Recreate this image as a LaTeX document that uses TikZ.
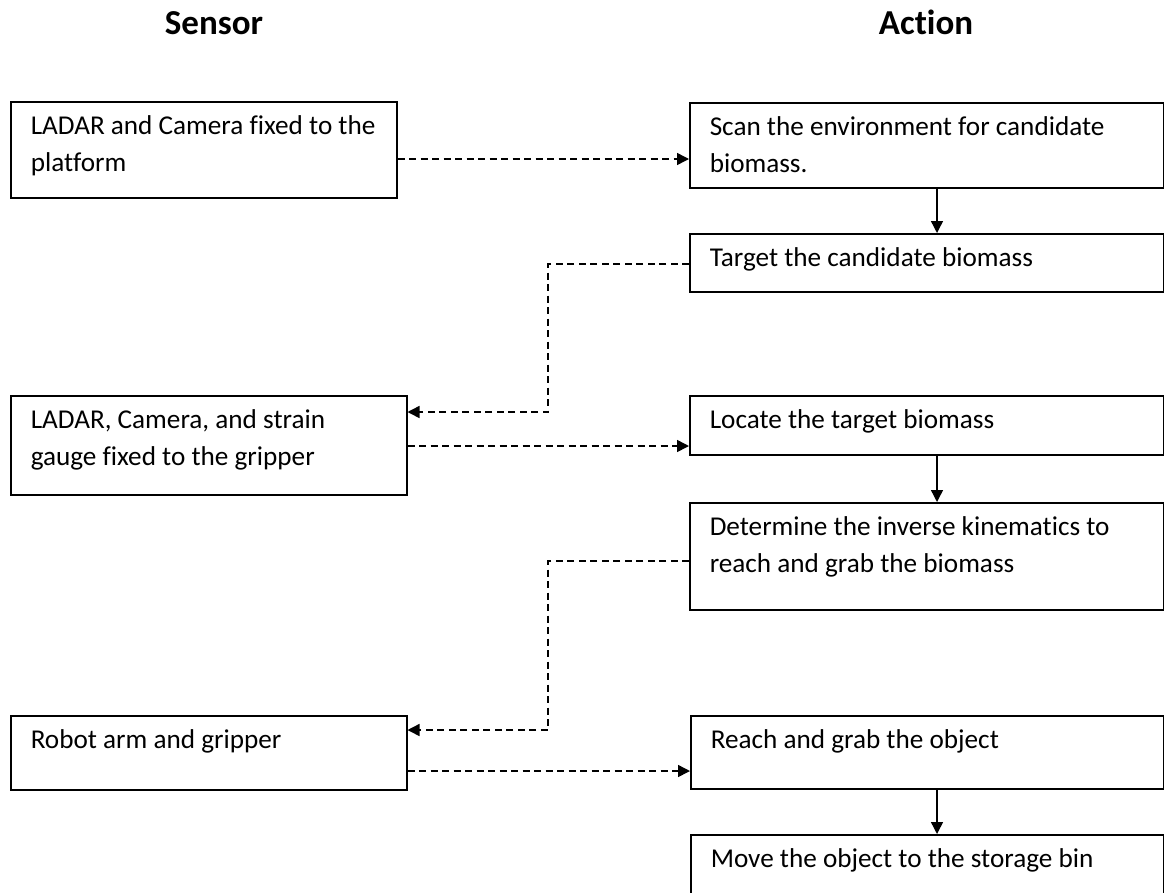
\documentclass[tikz,border=0pt]{standalone}
\usepackage{fontspec}
\setmainfont{Carlito}[Ligatures=CommonOff]
\usetikzlibrary{arrows.meta,calc}
\newcommand{\bxt}[3]{\parbox[c][#2][t]{#1}{\raggedright\strut #3}}
\tikzset{
  box/.style={draw=black, line width=1.5pt, anchor=north west, inner xsep=20pt, inner ysep=7pt,
    font=\fontsize{27.2}{37}\selectfont},
  head/.style={anchor=base, font=\fontsize{35}{40}\selectfont\bfseries},
  solidarrow/.style={line width=1.4pt, -{Triangle[length=12pt,width=12pt]}},
  dasharrow/.style={line width=1.5pt, dash pattern=on 7pt off 4.5pt, -{Triangle[length=12pt,width=12pt]}}
}
\begin{document}
\begin{tikzpicture}[x=1pt,y=-1pt]
\useasboundingbox (0,0) rectangle (1164,892);
\clip (0,0) rectangle (1164,892);
\node[head] (hs) at (214,34) {Sensor};
\node[head] (ha) at (926,34) {Action};

\node[box] (L1) at (10,101) {\bxt{346pt}{82pt}{LADAR and Camera fixed to the\\platform}};
\node[box] (L2) at (10,395) {\bxt{356pt}{85pt}{LADAR, Camera, and strain\\gauge fixed to the gripper}};
\node[box] (L3) at (10,715) {\bxt{356pt}{60pt}{Robot arm and gripper}};

\node[box] (R1) at (689,102) {\bxt{434pt}{71pt}{Scan the environment for candidate\\biomass.}};
\node[box] (R2) at (689,233) {\bxt{434pt}{44pt}{Target the candidate biomass}};
\node[box] (R3) at (689,395) {\bxt{434pt}{45pt}{Locate the target biomass}};
\node[box] (R4) at (689,502) {\bxt{434pt}{93pt}{Determine the inverse kinematics to\\reach and grab the biomass}};
\node[box] (R5) at (690,715) {\bxt{433pt}{59pt}{Reach and grab the object}};
\node[box] (R6) at (690,834) {\bxt{433pt}{60pt}{Move the object to the storage bin}};

\draw[dasharrow] ($(L1.north east)+(0,58)$) coordinate (h1) -- (R1.west |- h1);
\draw[solidarrow] ($(R1.south west)+(248,0)$) coordinate (v1) -- (v1 |- R2.north);
\draw[dasharrow] ($(R2.north west)+(0,31)$) -- ++(-141,0) |- ($(L2.north east)+(0,17)$);
\draw[dasharrow] ($(L2.north east)+(0,51)$) coordinate (h2) -- (R3.west |- h2);
\draw[solidarrow] ($(R3.south west)+(248,0)$) coordinate (v2) -- (v2 |- R4.north);
\draw[dasharrow] ($(R4.north west)+(0,59)$) -- ++(-141,0) |- ($(L3.north east)+(0,15)$);
\draw[dasharrow] ($(L3.north east)+(0,56)$) coordinate (h3) -- (R5.west |- h3);
\draw[solidarrow] ($(R5.south west)+(247,0)$) coordinate (v3) -- (v3 |- R6.north);
\end{tikzpicture}
\end{document}
